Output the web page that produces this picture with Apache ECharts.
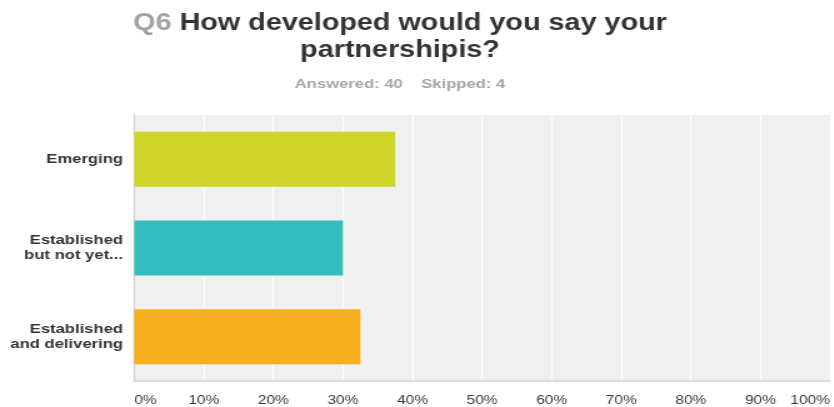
<!DOCTYPE html>
<html>
<head>
<meta charset="utf-8">
<script src="https://cdn.jsdelivr.net/npm/echarts@6/dist/echarts.min.js"></script>
<style>
  html, body { margin: 0; padding: 0; background: #ffffff; overflow: hidden; }
  /* The chart is laid out at a narrower logical width and widened horizontally. */
  #chart { width: 667px; height: 407px; transform: scaleX(1.25); transform-origin: 0 0; }
</style>
</head>
<body>
<div id="chart"></div>
<script>
// Survey question and response counts
const questionNo = 'Q6';
const questionText = 'How developed would you say your\npartnershipis?';
const answered = 40;
const skipped = 4;

// Answer choices (top to bottom) and share of respondents, in percent
const categories = ['Emerging', 'Established\nbut not yet...', 'Established\nand delivering'];
const percentages = [37.5, 30, 32.5];

// One colour per answer choice
const barColors = ['#cfd52a', '#33bebf', '#f7af1f'];

const chart = echarts.init(document.getElementById('chart'), null, { renderer: 'canvas' });

chart.setOption({
  backgroundColor: '#ffffff',
  animation: false,
  title: {
    text: '{q|' + questionNo + '} ' + questionText,
    subtext: 'Answered: ' + answered + '    Skipped: ' + skipped,
    left: 320,
    top: 10,
    textAlign: 'center',
    padding: 0,
    itemGap: 12,
    textStyle: {
      fontFamily: 'Liberation Sans, Arial, sans-serif',
      fontSize: 23,
      fontWeight: 'bold',
      color: '#333333',
      lineHeight: 27,
      rich: {
        q: {
          fontFamily: 'Liberation Sans, Arial, sans-serif',
          fontSize: 23,
          fontWeight: 'bold',
          color: '#a3a3a3',
          lineHeight: 27
        }
      }
    },
    subtextStyle: {
      fontFamily: 'Liberation Sans, Arial, sans-serif',
      fontSize: 13.3,
      fontWeight: 'bold',
      color: '#a6a6a6',
      lineHeight: 16
    }
  },
  grid: {
    left: 107.4,
    right: 0,
    top: 115,
    bottom: 25.5,
    show: true,
    backgroundColor: '#f0f0f0',
    borderWidth: 0
  },
  xAxis: {
    type: 'value',
    min: 0,
    max: 100,
    interval: 10,
    axisLine: { show: true, lineStyle: { color: '#d4d4d4', width: 1.5 } },
    axisTick: { show: false },
    splitLine: { show: true, lineStyle: { color: '#ffffff', width: 1.2 } },
    axisLabel: {
      formatter: '{value}%',
      margin: 14,
      fontFamily: 'Liberation Sans, Arial, sans-serif',
      fontSize: 12.4,
      color: '#3a3a3a',
      alignMinLabel: 'left',
      alignMaxLabel: 'right'
    }
  },
  yAxis: {
    type: 'category',
    data: categories,
    inverse: true,
    axisLine: { show: true, lineStyle: { color: '#d4d4d4', width: 1.4 } },
    axisTick: { show: false },
    splitLine: { show: false },
    axisLabel: {
      margin: 9,
      fontFamily: 'Liberation Sans, Arial, sans-serif',
      fontSize: 13.3,
      fontWeight: 'bold',
      color: '#333333',
      lineHeight: 15,
      align: 'right'
    }
  },
  series: [{
    type: 'bar',
    data: percentages.map((v, i) => ({ value: v, itemStyle: { color: barColors[i] } })),
    barWidth: 55,
    silent: true
  }]
});
</script>
</body>
</html>
